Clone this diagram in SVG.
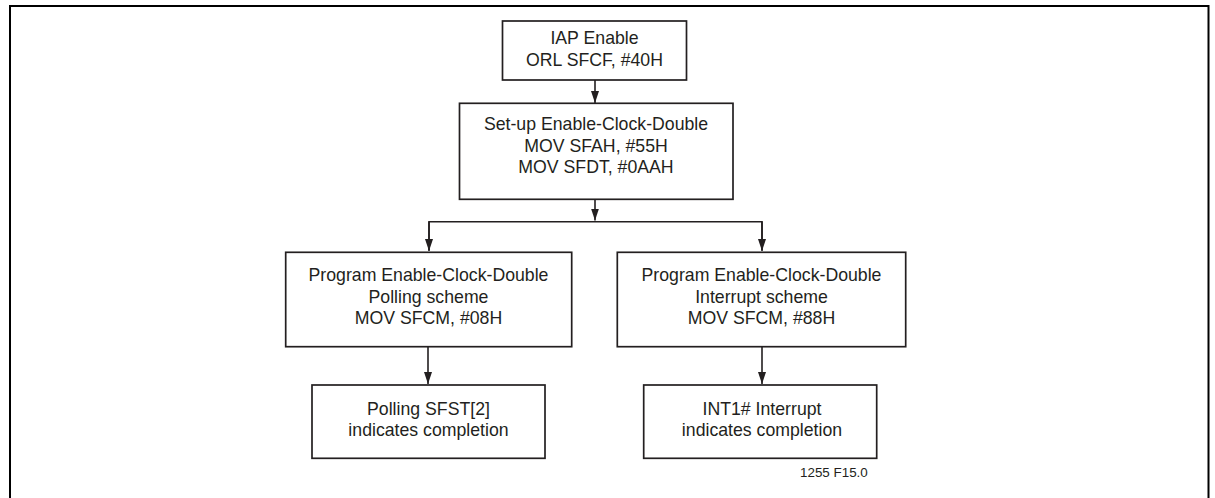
<svg xmlns="http://www.w3.org/2000/svg" width="1215" height="498" viewBox="0 0 1215 498">
<style>
.box{fill:#fff;stroke:#231f20;stroke-width:1.7}
.t{font-family:"Liberation Sans",Arial,sans-serif;font-size:17.7px;fill:#231f20;text-anchor:middle}
.w{fill:none;stroke:#231f20;stroke-width:1.6}
.s{font-family:"Liberation Sans",Arial,sans-serif;font-size:13.4px;fill:#231f20}
</style>
<defs>
<marker id="ad" viewBox="0 0 12 12" refX="6" refY="12" markerWidth="12" markerHeight="12" markerUnits="userSpaceOnUse" orient="0">
<path d="M2,0 L10,0 L6,12 Z" fill="#231f20"/>
</marker>
</defs>
<path d="M10,500 V6 H1208.5 V500" fill="none" stroke="#000" stroke-width="2"/>
<g id="connectors">
<path class="w" d="M595,80 V103" marker-end="url(#ad)"/>
<path class="w" d="M595,199.5 V220.5" marker-end="url(#ad)"/>
<path class="w" d="M429,250 V221.7 H762 V250"/>
<path class="w" d="M429,221.7 V251" marker-end="url(#ad)"/>
<path class="w" d="M762,221.7 V251" marker-end="url(#ad)"/>
<path class="w" d="M428,346.7 V384" marker-end="url(#ad)"/>
<path class="w" d="M762,346.7 V384" marker-end="url(#ad)"/>
</g>
<g id="n1">
<rect class="box" x="502.5" y="21" width="184" height="59"/>
<text class="t" x="594.5" y="44">IAP Enable</text>
<text class="t" x="594.5" y="65.7">ORL SFCF, #40H</text>
</g>
<g id="n2">
<rect class="box" x="459.5" y="103.3" width="273.5" height="96"/>
<text class="t" x="596" y="130">Set-up Enable-Clock-Double</text>
<text class="t" x="596" y="151.7">MOV SFAH, #55H</text>
<text class="t" x="596" y="173.3">MOV SFDT, #0AAH</text>
</g>
<g id="n3">
<rect class="box" x="285.7" y="252.3" width="286" height="94.4"/>
<text class="t" x="428.5" y="281">Program Enable-Clock-Double</text>
<text class="t" x="428.5" y="302.7">Polling scheme</text>
<text class="t" x="428.5" y="324.3">MOV SFCM, #08H</text>
</g>
<g id="n4">
<rect class="box" x="617.3" y="252.3" width="288.4" height="94.4"/>
<text class="t" x="761.5" y="281">Program Enable-Clock-Double</text>
<text class="t" x="761.5" y="302.7">Interrupt scheme</text>
<text class="t" x="761.5" y="324.3">MOV SFCM, #88H</text>
</g>
<g id="n5">
<rect class="box" x="312" y="385" width="233" height="73.3"/>
<text class="t" x="428.5" y="415">Polling SFST[2]</text>
<text class="t" x="428.5" y="436">indicates completion</text>
</g>
<g id="n6">
<rect class="box" x="643.7" y="385" width="233" height="73.3"/>
<text class="t" x="762" y="415">INT1# Interrupt</text>
<text class="t" x="762" y="436">indicates completion</text>
</g>
<text class="s" x="800" y="477">1255 F15.0</text>
</svg>
